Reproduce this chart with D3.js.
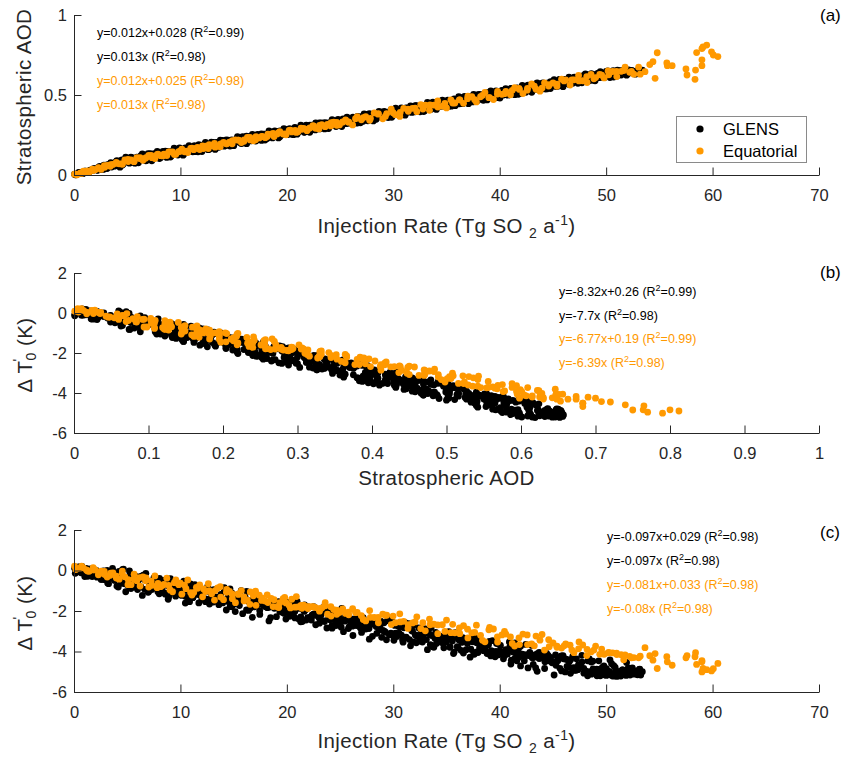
<!DOCTYPE html>
<html>
<head>
<meta charset="utf-8">
<script src="https://cdn.jsdelivr.net/npm/d3@7"></script>
<style>
  body { margin: 0; background: #fff; }
  svg { display: block; font-family: "Liberation Sans", Arial, Helvetica, sans-serif; }
</style>
</head>
<body>
<div id="chart"></div>
<script>
// GLENS points: injection rate (Tg SO2/yr), stratospheric AOD, delta T0' (K)
const glensInjection = [
  0.05,0.20,0.42,0.55,0.75,0.92,1.07,1.29,1.42,1.62, 1.79,1.94,2.16,2.29,2.49,2.66,2.81,3.03,3.16,3.36,
  3.53,3.68,3.90,4.03,4.23,4.40,4.55,4.77,4.90,5.10, 5.27,5.42,5.64,5.77,5.97,6.14,6.29,6.51,6.64,6.84,
  7.01,7.16,7.38,7.51,7.71,7.88,8.03,8.25,8.38,8.58, 8.75,8.90,9.12,9.25,9.45,9.62,9.77,9.99,10.12,10.32,
  10.49,10.64,10.86,10.99,11.19,11.36,11.51,11.73,11.86,12.06, 12.23,12.38,12.60,12.73,12.93,13.10,13.25,13.47,13.60,13.80,
  13.97,14.12,14.34,14.47,14.67,14.84,14.99,15.21,15.34,15.54, 15.71,15.86,16.08,16.21,16.41,16.58,16.73,16.95,17.08,17.28,
  17.45,17.60,17.82,17.95,18.15,18.32,18.47,18.69,18.82,19.02, 19.19,19.34,19.56,19.69,19.89,20.06,20.21,20.43,20.56,20.76,
  20.93,21.08,21.30,21.43,21.63,21.80,21.95,22.17,22.30,22.50, 22.67,22.82,23.04,23.17,23.37,23.54,23.69,23.91,24.04,24.24,
  24.41,24.56,24.78,24.91,25.11,25.28,25.43,25.65,25.78,25.98, 26.15,26.30,26.52,26.65,26.85,27.02,27.17,27.39,27.52,27.72,
  27.89,28.04,28.26,28.39,28.59,28.76,28.91,29.13,29.26,29.46, 29.63,29.78,30.00,30.13,30.33,30.50,30.65,30.87,31.00,31.20,
  31.37,31.52,31.74,31.87,32.07,32.24,32.39,32.61,32.74,32.94, 33.11,33.26,33.48,33.61,33.81,33.98,34.13,34.35,34.48,34.68,
  34.85,35.00,35.22,35.35,35.55,35.72,35.87,36.09,36.22,36.42, 36.59,36.74,36.96,37.09,37.29,37.46,37.61,37.83,37.96,38.16,
  38.33,38.48,38.70,38.83,39.03,39.20,39.35,39.57,39.70,39.90, 40.07,40.22,40.44,40.57,40.77,40.94,41.09,41.31,41.44,41.64,
  41.81,41.96,42.18,42.31,42.51,42.68,42.83,43.05,43.18,43.38, 43.55,43.70,43.92,44.05,44.25,44.42,44.57,44.79,44.92,45.12,
  45.29,45.44,45.66,45.79,45.99,46.16,46.31,46.53,46.66,46.86, 47.03,47.18,47.40,47.53,47.73,47.90,48.05,48.27,48.40,48.60,
  48.77,48.92,49.14,49.27,49.47,49.64,49.79,50.01,50.14,50.34, 50.51,50.66,50.88,51.01,51.21,51.38,51.53,51.75,51.88,52.08,
  52.25,52.40,52.62,52.75,52.95,53.12,53.40,53.25,
  // second group of members
  0.12,0.31,0.45,0.66, 0.82,1.01,1.15,1.36, 1.52,1.71,1.85,2.06, 2.22,2.41,2.55,2.76, 2.92,3.11,3.25,3.46,
  3.62,3.81,3.95,4.16, 4.32,4.51,4.65,4.86, 5.02,5.21,5.35,5.56, 5.72,5.91,6.05,6.26, 6.42,6.61,6.75,6.96,
  7.12,7.31,7.45,7.66, 7.82,8.01,8.15,8.36, 8.52,8.71,8.85,9.06, 9.22,9.41,9.55,9.76, 9.92,10.11,10.25,10.46,
  10.62,10.81,10.95,11.16, 11.32,11.51,11.65,11.86, 12.02,12.21,12.35,12.56, 12.72,12.91,13.05,13.26, 13.42,13.61,13.75,13.96,
  14.12,14.31,14.45,14.66, 14.82,15.01,15.15,15.36, 15.52,15.71,15.85,16.06, 16.22,16.41,16.55,16.76, 16.92,17.11,17.25,17.46,
  17.62,17.81,17.95,18.16, 18.32,18.51,18.65,18.86, 19.02,19.21,19.35,19.56, 19.72,19.91,20.05,20.26, 20.42,20.61,20.75,20.96,
  21.12,21.31,21.45,21.66, 21.82,22.01,22.15,22.36, 22.52,22.71,22.85,23.06, 23.22,23.41,23.55,23.76, 23.92,24.11,24.25,24.46,
  24.62,24.81,24.95,25.16, 25.32,25.51,25.65,25.86, 26.02,26.21,26.35,26.56, 26.72,26.91,27.05,27.26, 27.42,27.61,27.75,27.96,
  28.12,28.31,28.45,28.66, 28.82,29.01,29.15,29.36, 29.52,29.71,29.85,30.06, 30.22,30.41,30.55,30.76, 30.92,31.11,31.25,31.46,
  31.62,31.81,31.95,32.16, 32.32,32.51,32.65,32.86, 33.02,33.21,33.35,33.56, 33.72,33.91,34.05,34.26, 34.42,34.61,34.75,34.96,
  35.12,35.31,35.45,35.66, 35.82,36.01,36.15,36.36, 36.52,36.71,36.85,37.06, 37.22,37.41,37.55,37.76, 37.92,38.11,38.25,38.46,
  38.62,38.81,38.95,39.16, 39.32,39.51,39.65,39.86, 40.02,40.21,40.35,40.56, 40.72,40.91,41.05,41.26, 41.42,41.61,41.75,41.96,
  42.12,42.31,42.45,42.66, 42.82,43.01,43.15,43.36, 43.52,43.71,43.85,44.06, 44.22,44.41,44.55,44.76, 44.92,45.11,45.25,45.46,
  45.62,45.81,45.95,46.16, 46.32,46.51,46.65,46.86, 47.02,47.21,47.35,47.56, 47.72,47.91,48.05,48.26, 48.42,48.61,48.75,48.96,
  49.12,49.31,49.45,49.66, 49.82,50.01,50.15,50.36, 50.52,50.71,50.85,51.06, 51.22,51.41,51.55,51.76, 51.92,52.11,52.25,52.46,
  52.62,52.81,52.95,53.16
];
const glensAOD = [
  0.005,0.001,0.009,0.016,0.011,0.012,0.024,0.023,0.019,0.031, 0.031,0.040,0.031,0.048,0.033,0.049,0.062,0.045,0.065,0.059,
  0.050,0.070,0.067,0.089,0.063,0.089,0.062,0.088,0.106,0.081, 0.077,0.109,0.096,0.076,0.109,0.099,0.121,0.095,0.120,0.092,
  0.116,0.134,0.109,0.104,0.137,0.123,0.103,0.136,0.126,0.149, 0.122,0.147,0.119,0.143,0.161,0.135,0.131,0.164,0.149,0.131,
  0.163,0.153,0.176,0.149,0.174,0.146,0.170,0.189,0.162,0.159, 0.191,0.177,0.158,0.190,0.180,0.203,0.176,0.202,0.173,0.198,
  0.216,0.189,0.186,0.218,0.204,0.185,0.217,0.208,0.230,0.204, 0.229,0.200,0.225,0.243,0.217,0.213,0.245,0.231,0.212,0.244,
  0.234,0.257,0.231,0.255,0.228,0.252,0.270,0.244,0.240,0.272, 0.258,0.239,0.272,0.261,0.285,0.258,0.283,0.255,0.279,0.297,
  0.271,0.267,0.300,0.285,0.267,0.299,0.288,0.312,0.285,0.310, 0.282,0.306,0.325,0.298,0.294,0.327,0.312,0.294,0.326,0.316,
  0.339,0.312,0.337,0.309,0.333,0.351,0.325,0.322,0.353,0.340, 0.321,0.353,0.343,0.366,0.339,0.364,0.336,0.361,0.378,0.353,
  0.349,0.381,0.367,0.348,0.380,0.370,0.393,0.367,0.391,0.364, 0.388,0.405,0.380,0.376,0.408,0.394,0.375,0.407,0.397,0.420,
  0.393,0.418,0.391,0.414,0.433,0.407,0.403,0.435,0.421,0.402, 0.434,0.424,0.448,0.420,0.446,0.418,0.442,0.460,0.434,0.430,
  0.462,0.448,0.430,0.461,0.452,0.475,0.447,0.473,0.445,0.469, 0.487,0.461,0.458,0.489,0.476,0.457,0.488,0.479,0.502,0.475,
  0.500,0.472,0.496,0.514,0.488,0.484,0.516,0.503,0.483,0.516, 0.506,0.529,0.502,0.527,0.499,0.523,0.541,0.516,0.511,0.544,
  0.530,0.511,0.543,0.533,0.556,0.529,0.554,0.527,0.550,0.569, 0.543,0.538,0.571,0.557,0.538,0.570,0.560,0.583,0.556,0.581,
  0.553,0.577,0.596,0.569,0.566,0.598,0.584,0.565,0.597,0.587, 0.610,0.583,0.609,0.580,0.605,0.623,0.597,0.593,0.625,0.611,
  0.592,0.624,0.615,0.637,0.611,0.636,0.608,0.632,0.650,0.624, 0.620,0.652,0.639,0.619,0.652,0.642,0.651,0.638,0.647,0.635,
  0.644,0.653,0.641,0.630,0.648,0.638,0.655,0.645,
  // second group of members
  0.001,0.008,0.016,0.010, 0.008,0.024,0.021,0.016, 0.031,0.027,0.040,0.035, 0.029,0.054,0.049,0.035, 0.059,0.040,0.063,0.077,
  0.060,0.055,0.083,0.075, 0.049,0.094,0.070,0.111, 0.086,0.074,0.111,0.102, 0.074,0.112,0.076,0.113, 0.132,0.101,0.089,0.134,
  0.116,0.089,0.132,0.108, 0.147,0.122,0.109,0.147, 0.137,0.110,0.147,0.112, 0.149,0.168,0.137,0.125, 0.169,0.152,0.124,0.169,
  0.143,0.183,0.157,0.145, 0.183,0.173,0.145,0.183, 0.147,0.185,0.203,0.173, 0.161,0.205,0.188,0.160, 0.204,0.179,0.218,0.194,
  0.180,0.219,0.208,0.181, 0.219,0.183,0.220,0.239, 0.208,0.197,0.240,0.224, 0.196,0.240,0.215,0.254, 0.229,0.216,0.254,0.245,
  0.216,0.255,0.218,0.256, 0.275,0.244,0.232,0.276, 0.259,0.232,0.275,0.251, 0.290,0.265,0.252,0.290, 0.280,0.252,0.290,0.255,
  0.291,0.311,0.279,0.268, 0.312,0.295,0.267,0.311, 0.286,0.326,0.300,0.288, 0.326,0.316,0.288,0.326, 0.290,0.327,0.346,0.316,
  0.303,0.348,0.330,0.303, 0.347,0.322,0.361,0.336, 0.323,0.362,0.351,0.324, 0.362,0.326,0.363,0.382, 0.351,0.339,0.383,0.367,
  0.338,0.383,0.357,0.397, 0.372,0.359,0.397,0.387, 0.359,0.398,0.361,0.399, 0.418,0.387,0.375,0.419, 0.402,0.374,0.418,0.394,
  0.432,0.408,0.394,0.433, 0.423,0.395,0.433,0.397, 0.434,0.454,0.422,0.411, 0.455,0.438,0.410,0.454, 0.429,0.468,0.443,0.431,
  0.468,0.459,0.430,0.469, 0.433,0.470,0.489,0.458, 0.446,0.491,0.473,0.446, 0.490,0.465,0.504,0.479, 0.466,0.504,0.494,0.467,
  0.504,0.469,0.505,0.525, 0.494,0.482,0.526,0.509, 0.481,0.526,0.500,0.540, 0.515,0.502,0.540,0.530, 0.502,0.540,0.504,0.542,
  0.560,0.530,0.517,0.562, 0.545,0.517,0.561,0.536, 0.575,0.551,0.537,0.576, 0.566,0.538,0.576,0.540, 0.577,0.596,0.565,0.554,
  0.597,0.581,0.552,0.597, 0.572,0.611,0.586,0.573, 0.611,0.602,0.573,0.612, 0.576,0.613,0.632,0.601, 0.589,0.633,0.616,0.589,
  0.632,0.608,0.646,0.622, 0.609,0.647,0.637,0.609, 0.647,0.612,0.648,0.656, 0.637,0.625,0.654,0.652, 0.624,0.657,0.643,0.650,
  0.646,0.645,0.652,0.649
];
const glensDT = [
  0.12,-0.08,0.16,-0.06,0.20,-0.11,-0.08,-0.29,0.04,-0.23, 0.00,-0.17,-0.33,-0.17,-0.20,-0.12,-0.45,-0.25,-0.62,-0.29,
  -0.39,-0.07,-0.21,-0.77,-0.05,-0.54,0.04,-0.66,-0.60,-0.75, -0.22,-0.78,-0.29,-0.28,-0.94,-0.35,-0.81,-0.23,-0.93,-0.49,
  -1.05,-0.69,-0.78,-0.36,-0.79,-1.05,-0.39,-0.93,-0.49,-1.17, -0.74,-1.30,-0.57,-1.06,-0.83,-0.77,-1.12,-0.89,-1.04,-0.53,
  -1.29,-0.99,-1.54,-0.82,-1.32,-0.70,-1.06,-1.60,-0.88,-1.12, -1.03,-1.40,-1.03,-1.66,-1.08,-1.56,-0.95,-1.33,-1.47,-1.18,
  -1.60,-1.01,-1.48,-1.53,-1.78,-1.12,-1.68,-1.22,-1.56,-1.73, -1.44,-1.46,-1.31,-1.95,-1.53,-1.85,-1.62,-1.79,-1.25,-1.68,
  -1.98,-1.67,-1.72,-1.56,-1.83,-1.82,-2.33,-1.61,-1.87,-1.75, -1.80,-2.02,-1.79,-1.97,-1.81,-2.08,-2.07,-2.20,-1.90,-2.34,
  -1.74,-1.87,-2.53,-1.90,-2.02,-1.93,-2.33,-2.32,-2.45,-2.16, -2.22,-2.04,-2.35,-2.51,-1.98,-2.52,-2.04,-2.38,-2.43,-2.71,
  -2.40,-2.47,-2.29,-2.22,-2.80,-2.45,-2.50,-2.12,-2.87,-2.55, -2.75,-2.52,-2.72,-2.54,-2.47,-3.06,-2.33,-2.80,-2.58,-2.87,
  -2.62,-3.25,-2.63,-2.77,-2.65,-2.73,-3.30,-2.58,-3.05,-2.47, -3.16,-3.09,-3.24,-2.71,-3.26,-2.77,-2.77,-3.42,-2.83,-3.29,
  -2.71,-3.41,-2.97,-3.52,-3.18,-3.26,-2.84,-3.27,-3.53,-2.87, -3.41,-2.97,-3.66,-3.21,-3.79,-3.06,-3.55,-3.32,-3.26,-3.61,
  -3.37,-3.53,-3.02,-3.77,-3.48,-4.03,-3.30,-3.81,-3.19,-3.55, -4.08,-3.37,-3.61,-3.51,-3.89,-3.52,-4.14,-3.57,-4.05,-3.44,
  -3.81,-3.96,-3.66,-4.08,-3.50,-3.96,-4.01,-4.26,-3.60,-4.16, -3.70,-4.05,-4.21,-3.91,-3.95,-3.79,-4.43,-4.01,-4.33,-4.11,
  -4.28,-3.74,-4.17,-4.46,-4.16,-4.20,-4.05,-4.31,-4.30,-4.81, -4.10,-4.35,-4.24,-4.28,-4.51,-4.27,-4.46,-4.29,-4.56,-4.55,
  -4.68,-4.38,-4.83,-4.22,-4.36,-5.01,-4.39,-4.50,-4.41,-4.81, -4.80,-4.93,-4.65,-4.70,-4.52,-4.83,-5.00,-4.46,-5.00,-4.52,
  -4.86,-4.91,-5.20,-4.88,-4.95,-4.78,-4.71,-5.18,-4.94,-4.99, -4.60,-5.22,-5.04,-5.23,-5.00,-5.21,-4.91,-4.96,-5.18,-4.81,
  -5.16,-4.87,-5.12,-4.96,-5.15,-4.89,-5.00,-5.16,
  // second group of members
  -0.14,0.11,0.18,-0.11, 0.06,-0.30,0.10,-0.09, 0.08,-0.30,-0.15,0.02, -0.27,-0.32,-0.45,-0.02, -0.45,0.01,-0.65,-0.25,
  0.10,-0.49,-0.39,-0.82, -0.14,-0.63,0.07,-1.05, -0.33,-0.02,-0.89,-0.55, -0.82,-0.40,-0.48,-0.29, -1.23,-0.45,-0.14,-1.08,
  -0.67,-0.94,-0.57,-0.75, -0.57,-1.15,-0.52,-0.62, -1.11,-0.62,-1.42,-0.40, -1.09,-0.75,-1.27,-0.65, -0.81,-1.23,-0.73,-1.61,
  -0.66,-1.37,-0.66,-1.34, -1.13,-0.84,-1.18,-1.22, -1.42,-1.01,-1.54,-0.79, -1.47,-1.32,-0.96,-1.30, -1.40,-1.69,-1.28,-1.46,
  -0.85,-1.95,-1.34,-0.91, -1.79,-1.22,-2.03,-1.46, -1.58,-0.99,-2.13,-1.47, -1.03,-1.97,-1.49,-2.31, -1.38,-1.65,-1.46,-2.17,
  -1.41,-1.52,-1.78,-1.83, -2.49,-1.50,-1.78,-1.65, -2.28,-1.54,-1.69,-2.06, -2.11,-2.40,-1.57,-2.26, -1.68,-2.23,-2.02,-1.52,
  -2.39,-2.29,-2.52,-1.70, -2.45,-1.80,-2.35,-2.20, -1.78,-2.68,-2.20,-2.60, -2.18,-2.48,-1.75,-2.84, -2.02,-2.12,-2.85,-2.33,
  -2.72,-2.37,-2.60,-1.87, -3.02,-2.29,-2.40,-2.77, -2.39,-3.21,-2.39,-2.55, -2.36,-2.84,-2.63,-2.58, -2.89,-2.52,-3.39,-2.52,
  -2.66,-2.54,-3.10,-2.91, -2.50,-2.96,-3.00,-3.42, -2.46,-3.16,-2.35,-3.45, -3.09,-2.62,-3.09,-3.19, -3.54,-2.58,-3.33,-2.63,
  -3.72,-3.00,-2.68,-3.57, -3.22,-3.49,-3.07,-3.15, -2.96,-3.91,-3.12,-2.82, -3.76,-3.34,-3.61,-3.25, -3.42,-3.24,-3.82,-3.20,
  -3.29,-3.79,-3.28,-4.10, -3.07,-3.76,-3.42,-3.94, -3.32,-3.49,-3.91,-3.41, -4.28,-3.34,-4.04,-3.34, -4.01,-3.80,-3.51,-3.86,
  -3.89,-4.10,-3.67,-4.22, -3.46,-4.14,-3.99,-3.63, -3.97,-4.08,-4.36,-3.96, -4.13,-3.53,-4.62,-4.02, -3.58,-4.46,-3.89,-4.71,
  -4.13,-4.26,-3.65,-4.81, -4.14,-3.70,-4.64,-4.16, -4.98,-4.05,-4.32,-4.14, -4.84,-4.09,-4.19,-4.46, -4.50,-5.16,-4.17,-4.46,
  -4.32,-4.96,-4.20,-4.37, -4.73,-4.78,-5.08,-4.24, -4.93,-4.36,-4.90,-4.70, -4.19,-5.07,-4.96,-5.20, -4.37,-5.12,-4.48,-5.03,
  -4.87,-4.46,-5.20,-4.88, -5.15,-4.85,-5.15,-4.42, -5.18,-4.70,-4.79,-5.17, -5.00,-5.14,-4.91,-5.13, -4.54,-5.10,-4.96,-4.81,
  -5.08,-5.07,-5.11,-4.87
];

// Equatorial points: same three quantities
const equatorialInjection = [
  0.05,0.30,0.61,0.88,1.17,1.42,1.73,2.00,2.29,2.54, 2.85,3.12,3.41,3.66,3.97,4.24,4.53,4.78,5.09,5.36,
  5.65,5.90,6.21,6.48,6.77,7.02,7.33,7.60,7.89,8.14, 8.45,8.72,9.01,9.26,9.57,9.84,10.13,10.38,10.69,10.96,
  11.25,11.50,11.81,12.08,12.37,12.62,12.93,13.20,13.49,13.74, 14.05,14.32,14.61,14.86,15.17,15.44,15.73,15.98,16.29,16.56,
  16.85,17.10,17.41,17.68,17.97,18.22,18.53,18.80,19.09,19.34, 19.65,19.92,20.21,20.46,20.77,21.04,21.33,21.58,21.89,22.16,
  22.45,22.70,23.01,23.28,23.57,23.82,24.13,24.40,24.69,24.94, 25.25,25.52,25.81,26.18,26.61,27.00,27.41,27.78,28.21,28.60,
  29.01,29.38,29.81,30.20,30.61,30.98,31.41,31.80,32.21,32.58, 33.01,33.40,33.81,34.18,34.61,35.00,35.41,35.78,36.21,36.60,
  37.01,37.38,37.81,38.20,38.61,38.98,39.41,39.80,40.21,40.58, 41.01,41.40,41.81,42.18,42.61,43.00,43.41,43.78,44.21,44.60,
  45.01,45.38,45.81,46.20,46.61,46.98,47.41,47.80,48.21,48.58, 49.01,49.40,49.81,50.18,50.61,51.00,51.41,51.78,52.21,52.60,
  53.65,53.20,54.10,54.60,54.40,54.80,55.70,55.75,56.20,57.50, 57.60,58.40,58.35,58.50,59.00,59.00,59.45,59.10,59.90,60.07,
  60.50,59.00,
  // second group of members
  0.18,0.71,1.27,1.80,2.36,2.89,3.45,3.98,4.54,5.07, 5.63,6.16,6.72,7.25,7.81,8.34,8.90,9.43,9.99,10.52,
  11.08,11.61,12.17,12.70,13.26,13.79,14.35,14.88,15.44,15.97, 16.53,17.06,17.62,18.15,18.71,19.24,19.80,20.33,20.89,21.42,
  21.98,22.51,23.07,23.60,24.16,24.69,25.25,25.78,26.45,27.18, 27.85,28.58,29.25,29.98,30.65,31.38,32.05,32.78,33.45,34.18,
  34.85,35.58,36.25,36.98,37.65,38.38,39.05,39.78,40.45,41.18, 41.85,42.58,43.25,43.98,44.65,45.38,46.05,46.78,47.45,48.18,
  48.85,49.58,50.25,50.98,51.65,52.38,53.05
];
const equatorialAOD = [
  0.005,0.001,0.013,0.024,0.018,0.017,0.036,0.033,0.046,0.035, 0.058,0.060,0.054,0.066,0.079,0.070,0.067,0.094,0.084,0.094,
  0.085,0.108,0.108,0.092,0.109,0.123,0.108,0.103,0.130,0.121, 0.131,0.122,0.145,0.144,0.129,0.146,0.161,0.145,0.140,0.167,
  0.158,0.168,0.159,0.182,0.181,0.165,0.183,0.197,0.182,0.177, 0.204,0.195,0.205,0.195,0.219,0.218,0.203,0.220,0.235,0.219,
  0.214,0.240,0.232,0.242,0.233,0.256,0.255,0.240,0.257,0.271, 0.256,0.251,0.278,0.269,0.279,0.270,0.293,0.292,0.277,0.294,
  0.308,0.292,0.288,0.314,0.306,0.316,0.307,0.330,0.329,0.313, 0.331,0.345,0.330,0.313,0.364,0.345,0.364,0.342,0.388,0.383,
  0.351,0.384,0.411,0.377,0.366,0.417,0.398,0.417,0.396,0.440, 0.436,0.404,0.437,0.463,0.430,0.419,0.470,0.450,0.470,0.448,
  0.493,0.489,0.457,0.489,0.516,0.483,0.472,0.523,0.504,0.522, 0.501,0.546,0.542,0.509,0.542,0.569,0.536,0.524,0.576,0.556,
  0.575,0.554,0.599,0.594,0.562,0.595,0.622,0.589,0.578,0.628, 0.609,0.628,0.607,0.651,0.647,0.615,0.648,0.674,0.642,0.630,
  0.646,0.630,0.690,0.604,0.708,0.764,0.700,0.683,0.683,0.663, 0.625,0.656,0.598,0.765,0.683,0.790,0.812,0.800,0.770,0.750,
  0.740,0.720,
  // second group of members
  0.006,0.010,0.026,0.028,0.043,0.048,0.064,0.073,0.071,0.098, 0.083,0.103,0.104,0.122,0.127,0.119,0.144,0.128,0.149,0.149,
  0.168,0.172,0.165,0.189,0.174,0.195,0.195,0.214,0.218,0.211, 0.235,0.220,0.240,0.241,0.260,0.264,0.257,0.281,0.266,0.286,
  0.287,0.305,0.310,0.302,0.327,0.311,0.332,0.332,0.352,0.359, 0.353,0.380,0.366,0.389,0.391,0.412,0.418,0.412,0.438,0.425,
  0.447,0.450,0.470,0.477,0.471,0.498,0.484,0.506,0.508,0.529, 0.535,0.530,0.556,0.543,0.565,0.568,0.588,0.594,0.588,0.615,
  0.601,0.624,0.626,0.647,0.653,0.648,0.674
];
const equatorialDT = [
  0.22,0.09,0.12,0.13,0.03,-0.04,0.03,0.03,-0.21,-0.03, -0.05,-0.32,-0.24,-0.12,-0.28,-0.43,-0.14,-0.31,-0.45,-0.70,
  -0.18,-0.50,-0.77,-0.32,-0.37,-0.82,-0.73,-0.27,-0.64,-0.80, -0.69,-0.38,-0.95,-1.05,-0.46,-0.70,-1.17,-0.72,-0.47,-1.09,
  -1.09,-0.83,-0.71,-1.30,-1.04,-0.65,-1.15,-1.46,-0.86,-0.80, -1.44,-1.08,-1.03,-1.16,-1.59,-1.18,-0.99,-1.50,-1.46,-1.06,
  -1.25,-1.72,-1.22,-1.36,-1.51,-1.58,-1.38,-1.44,-1.79,-1.59, -1.39,-1.60,-1.72,-1.42,-1.81,-1.80,-1.72,-1.71,-1.79,-1.78,
  -1.79,-1.83,-1.89,-1.85,-1.75,-2.16,-1.79,-1.93,-2.16,-2.07, -1.92,-2.12,-2.19,-1.89,-2.07,-2.23,-2.49,-1.98,-2.32,-2.58,
  -2.15,-2.21,-2.67,-2.58,-2.14,-2.51,-2.68,-2.59,-2.29,-2.87, -2.98,-2.40,-2.65,-3.12,-2.68,-2.45,-3.07,-3.08,-2.84,-2.72,
  -3.33,-3.08,-2.70,-3.20,-3.52,-2.93,-2.89,-3.53,-3.18,-3.14, -3.28,-3.73,-3.33,-3.14,-3.66,-3.62,-3.24,-3.44,-3.93,-3.42,
  -3.58,-3.74,-3.83,-3.63,-3.69,-4.06,-3.87,-3.68,-3.90,-4.02, -3.73,-4.14,-4.14,-4.07,-4.07,-4.15,-4.16,-4.17,-4.24,-4.30,
  -3.81,-4.23,-4.21,-4.10,-4.43,-4.84,-4.26,-4.51,-4.68,-4.31, -4.20,-4.06,-4.26,-4.64,-4.51,-5.01,-4.90,-4.84,-4.96,-4.85,
  -4.59,-4.45,
  // second group of members
  0.05,0.22,-0.03,0.14,-0.16,-0.20,-0.13,-0.37,-0.03,-0.70, -0.42,-0.35,-0.51,-0.52,-0.85,-0.73,-0.73,-0.60,-0.63,-0.90,
  -1.21,-0.88,-0.91,-0.99,-0.99,-1.31,-0.93,-1.39,-1.15,-1.30, -1.67,-1.02,-1.48,-1.20,-1.78,-1.83,-1.33,-1.85,-1.29,-1.87,
  -1.88,-1.80,-2.01,-1.59,-2.25,-1.96,-1.90,-2.06,-2.08,-2.42, -2.31,-2.32,-2.21,-2.25,-2.54,-2.86,-2.54,-2.58,-2.68,-2.69,
  -3.01,-2.66,-3.12,-2.90,-3.06,-3.45,-2.81,-3.28,-3.01,-3.60, -3.66,-3.18,-3.72,-3.16,-3.76,-3.79,-3.72,-3.93,-3.53,-4.20,
  -3.93,-3.88,-4.05,-4.08,-4.41,-4.31,-4.31
];

// Ticks
const injectionTicks = [0, 10, 20, 30, 40, 50, 60, 70];
const aodTicksA = [0, 0.5, 1];
const aodTicksB = [0, 0.1, 0.2, 0.3, 0.4, 0.5, 0.6, 0.7, 0.8, 0.9, 1];
const dtTicks = [-6, -4, -2, 0, 2];

// Regression annotations (GLENS lines first, then Equatorial)
const fitEqA = ['y=0.012x+0.028', 'y=0.013x', 'y=0.012x+0.025', 'y=0.013x'];
const fitR2A = ['0.99', '0.98', '0.98', '0.98'];
const fitEqB = ['y=-8.32x+0.26', 'y=-7.7x', 'y=-6.77x+0.19', 'y=-6.39x'];
const fitR2B = ['0.99', '0.98', '0.99', '0.98'];
const fitEqC = ['y=-0.097x+0.029', 'y=-0.097x', 'y=-0.081x+0.033', 'y=-0.08x'];
const fitR2C = ['0.98', '0.98', '0.98', '0.98'];

const seriesNames = ['GLENS', 'Equatorial'];

const W = 846, H = 761;
const BLACK = '#000000', ORANGE = '#ff9900', AXIS = '#262626';
const fitColors = [BLACK, BLACK, ORANGE, ORANGE];
const R = 3.4;
const LABEL_SIZE = 20.5;

function toPoints(inj, aod, dT) {
  const n = Math.min(inj.length, aod.length, dT.length);
  return d3.range(n).map(i => ({ inj: inj[i], aod: aod[i], dT: dT[i] }));
}
const glens = toPoints(glensInjection, glensAOD, glensDT);
const equatorial = toPoints(equatorialInjection, equatorialAOD, equatorialDT);

const svg = d3.select('#chart').append('svg')
  .attr('width', W).attr('height', H);
svg.append('rect').attr('width', W).attr('height', H).attr('fill', '#fff');

const panels = [
  {
    letter: '(a)', letterY: 21,
    x: d3.scaleLinear().domain([0, 70]).range([74, 819]),
    y: d3.scaleLinear().domain([0, 1]).range([175, 15]),
    xKey: 'inj', yKey: 'aod', xTicks: injectionTicks, yTicks: aodTicksA,
    eq: fitEqA, r2: fitR2A, textX: 97, textY: 37, textStep: 24,
    xLabelY: 233, yLabelX: 31, xLabel: 'inj', yLabel: 'aod'
  },
  {
    letter: '(b)', letterY: 278,
    x: d3.scaleLinear().domain([0, 1]).range([74, 819]),
    y: d3.scaleLinear().domain([-6, 2]).range([433, 273]),
    xKey: 'aod', yKey: 'dT', xTicks: aodTicksB, yTicks: dtTicks,
    eq: fitEqB, r2: fitR2B, textX: 559, textY: 296, textStep: 23.7,
    xLabelY: 485, yLabelX: 32, xLabel: 'aod', yLabel: 'dt'
  },
  {
    letter: '(c)', letterY: 538,
    x: d3.scaleLinear().domain([0, 70]).range([74, 819]),
    y: d3.scaleLinear().domain([-6, 2]).range([692, 530]),
    xKey: 'inj', yKey: 'dT', xTicks: injectionTicks, yTicks: dtTicks,
    eq: fitEqC, r2: fitR2C, textX: 607, textY: 541, textStep: 24.1,
    xLabelY: 748, yLabelX: 32, xLabel: 'inj', yLabel: 'dt'
  }
];

function injectionLabel(t) {
  t.append('tspan').text('Injection Rate (Tg SO ');
  t.append('tspan').attr('font-size', 14).attr('dy', 5).text('2');
  t.append('tspan').attr('dy', -5).text(' a');
  t.append('tspan').attr('font-size', 14).attr('dy', -8).text('-1');
  t.append('tspan').attr('dy', 8).text(')');
}

function deltaTLabel(t) {
  t.append('tspan').text('\u0394 T');
  t.append('tspan').attr('font-size', 14).attr('dy', -9).attr('dx', -1).text("'");
  t.append('tspan').attr('font-size', 14).attr('dy', 13).attr('dx', -2).text('0');
  t.append('tspan').attr('dy', -4).text(' (K)');
}

function writeLabel(t, kind) {
  if (kind === 'inj') injectionLabel(t);
  else if (kind === 'aod') t.text('Stratospheric AOD');
  else deltaTLabel(t);
}

panels.forEach(p => {
  const g = svg.append('g');

  // scatter: GLENS underneath, Equatorial on top
  g.append('g').selectAll('circle').data(glens).join('circle')
    .attr('cx', d => p.x(d[p.xKey])).attr('cy', d => p.y(d[p.yKey]))
    .attr('r', R).attr('fill', BLACK);
  g.append('g').selectAll('circle').data(equatorial).join('circle')
    .attr('cx', d => p.x(d[p.xKey])).attr('cy', d => p.y(d[p.yKey]))
    .attr('r', R).attr('fill', ORANGE);

  // axes with inward ticks, no box
  const xAxis = d3.axisBottom(p.x).tickValues(p.xTicks).tickFormat(d => String(d))
    .tickSizeInner(-7.5).tickSizeOuter(0).tickPadding(14);
  const yAxis = d3.axisLeft(p.y).tickValues(p.yTicks).tickFormat(d => String(d))
    .tickSizeInner(-7.5).tickSizeOuter(0).tickPadding(7);

  const xg = g.append('g').attr('transform', `translate(0,${p.y.range()[0]})`).call(xAxis);
  const yg = g.append('g').attr('transform', `translate(${p.x.range()[0]},0)`).call(yAxis);
  [xg, yg].forEach(a => {
    a.attr('color', AXIS).attr('font-size', 16.5).attr('font-family', null);
    a.select('.domain').attr('stroke-width', 1);
  });

  // axis titles
  const xl = g.append('text')
    .attr('x', (p.x.range()[0] + p.x.range()[1]) / 2).attr('y', p.xLabelY)
    .attr('text-anchor', 'middle').attr('font-size', LABEL_SIZE)
    .attr('letter-spacing', 0.4).attr('fill', AXIS);
  writeLabel(xl, p.xLabel);
  const yMid = (p.y.range()[0] + p.y.range()[1]) / 2;
  const yl = g.append('text')
    .attr('transform', `translate(${p.yLabelX},${yMid + 2}) rotate(-90)`)
    .attr('text-anchor', 'middle').attr('font-size', LABEL_SIZE)
    .attr('letter-spacing', 0.4).attr('fill', AXIS);
  writeLabel(yl, p.yLabel);

  // panel letter
  g.append('text').attr('x', 820).attr('y', p.letterY)
    .attr('font-size', 17).attr('fill', BLACK).text(p.letter);

  // regression equations
  p.eq.forEach((e, i) => {
    const t = g.append('text').attr('x', p.textX).attr('y', p.textY + i * p.textStep)
      .attr('font-size', 12.5).attr('fill', fitColors[i]);
    t.append('tspan').text(e + ' (R');
    t.append('tspan').attr('font-size', 9).attr('dy', -5).text('2');
    t.append('tspan').attr('dy', 5).text('=' + p.r2[i] + ')');
  });
});

// legend in panel (a)
const lg = svg.append('g');
lg.append('rect').attr('x', 676.5).attr('y', 116.5).attr('width', 130).attr('height', 46)
  .attr('fill', '#fff').attr('stroke', '#8a8a8a').attr('stroke-width', 1);
seriesNames.forEach((name, i) => {
  const cy = 129 + i * 22;
  lg.append('circle').attr('cx', 700).attr('cy', cy).attr('r', 3.6)
    .attr('fill', i === 0 ? BLACK : ORANGE);
  lg.append('text').attr('x', 723).attr('y', cy + 6).attr('font-size', 16.5)
    .attr('fill', BLACK).text(name);
});
</script>
</body>
</html>
